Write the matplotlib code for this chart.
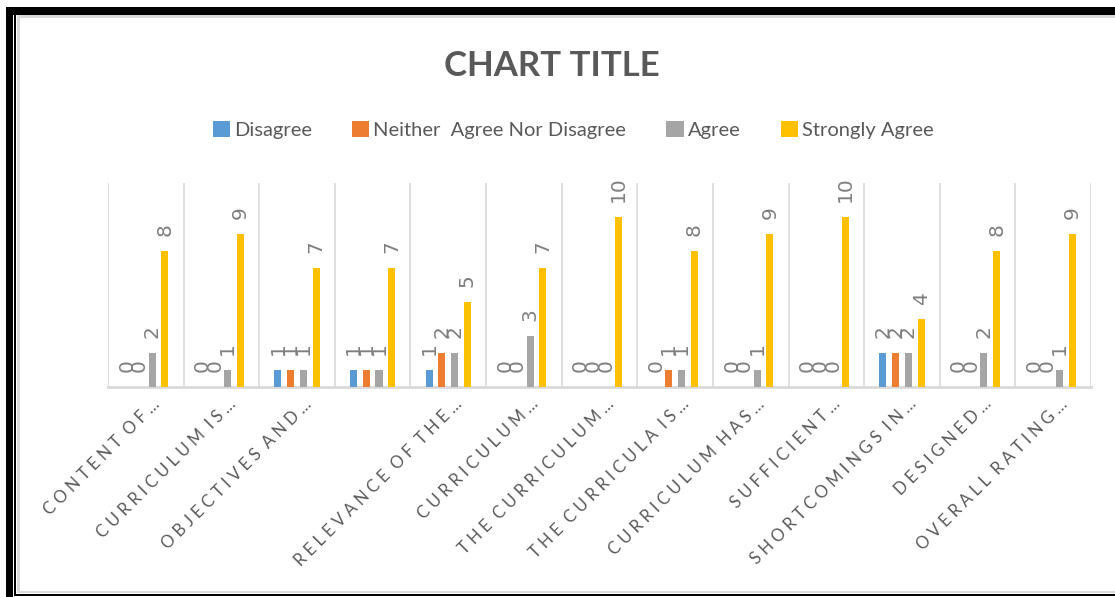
import numpy as np
import matplotlib
matplotlib.use('Agg')
import matplotlib.pyplot as plt
from matplotlib.patches import Patch, Rectangle
from matplotlib.transforms import ScaledTranslation

plt.rcParams['font.family'] = ['Lato', 'DejaVu Sans']

# dados
categorias = ["Content of…", "Curriculum is…", "Objectives and…", "",
              "Relevance of the…", "Curriculum…", "The curriculum…",
              "The curricula is…", "Curriculum has…", "Sufficient…",
              "Shortcomings in…", "Designed…", "Overall rating…"]
series = ["Disagree", "Neither  Agree Nor Disagree", "Agree", "Strongly Agree"]
disagree = [0, 0, 1, 1, 1, 0, 0, 0, 0, 0, 2, 0, 0]
neither = [0, 0, 1, 1, 2, 0, 0, 1, 0, 0, 2, 0, 0]
agree = [2, 1, 1, 1, 2, 3, 0, 1, 1, 0, 2, 2, 1]
strongly = [8, 9, 7, 7, 5, 7, 10, 8, 9, 10, 4, 8, 9]
cores = ['#5B9BD5', '#ED7D31', '#A5A5A5', '#FFC000']

W, H = 1115, 597
fig = plt.figure(figsize=(W / 100, H / 100), dpi=100)
ax = fig.add_axes([108 / W, 1 - 387 / H, (1091 - 108) / W, (387 - 183) / H])

x = np.arange(len(categorias))
passo = 0.168
largura = 0.093
for i, (vals, cor) in enumerate(zip([disagree, neither, agree, strongly], cores)):
    pos = x + (i - 1.5) * passo
    ax.bar(pos, vals, width=largura, color=cor, zorder=3)
    for xp, v in zip(pos, vals):
        ax.annotate(str(v), (xp, v), xytext=(0, 11), textcoords='offset points',
                    rotation=90, ha='center', va='bottom', fontsize=14.5,
                    color='#7F7F7F', family=['DejaVu Sans'])

ax.set_xlim(-0.5, len(categorias) - 0.5)
ax.set_ylim(0, 12)
ax.set_yticks([])
ax.set_xticks(np.arange(-0.5, len(categorias)), minor=True)
ax.grid(axis='x', which='minor', color='#D9D9D9', lw=1.2)
ax.tick_params(axis='x', which='both', length=0)
for s in ['top', 'left', 'right']:
    ax.spines[s].set_visible(False)
ax.spines['bottom'].set_color('#D9D9D9')
ax.spines['bottom'].set_linewidth(2)


def espacar(txt):
    return '  '.join(' '.join(p) for p in txt.upper().split(' '))


ax.set_xticks(x)
ax.set_xticklabels([espacar(c) for c in categorias], rotation=45, ha='right',
                   va='baseline', rotation_mode='anchor', fontsize=12,
                   color='#595959')
ax.tick_params(axis='x', pad=13)
for lab in ax.get_xticklabels():
    lab.set_transform(lab.get_transform() + ScaledTranslation(0.15, 0, fig.dpi_scale_trans))

fig.text(552 / W, 1 - 66 / H, 'CHART TITLE', ha='center', va='center',
         fontsize=25, fontweight='bold', color='#595959')

handles = [Patch(facecolor=c, edgecolor='none') for c in cores]
fig.legend(handles, series, loc='center', bbox_to_anchor=(573 / W, 1 - 130 / H),
           ncol=4, frameon=False, fontsize=14.5, handlelength=0.85,
           handleheight=0.85, handletextpad=0.2, columnspacing=2.0,
           labelcolor='#595959')

# moldura
def ret(x0, y0, x1, y1, cor):
    fig.add_artist(Rectangle((x0 / W, 1 - y1 / H), (x1 - x0) / W, (y1 - y0) / H,
                             transform=fig.transFigure, facecolor=cor,
                             edgecolor='none', zorder=10))


ret(6, 7, W, 15, 'black')
ret(6, 7, 13, 597, 'black')
ret(14, 15, 15.5, 596, 'black')
ret(14, 594, W, 596, 'black')
ret(17, 15, W, 18, '#D9D9D9')
ret(17, 15, 19.5, 593, '#D9D9D9')
ret(17, 591, W, 593, '#D9D9D9')

fig.savefig('out.png', dpi=100)
